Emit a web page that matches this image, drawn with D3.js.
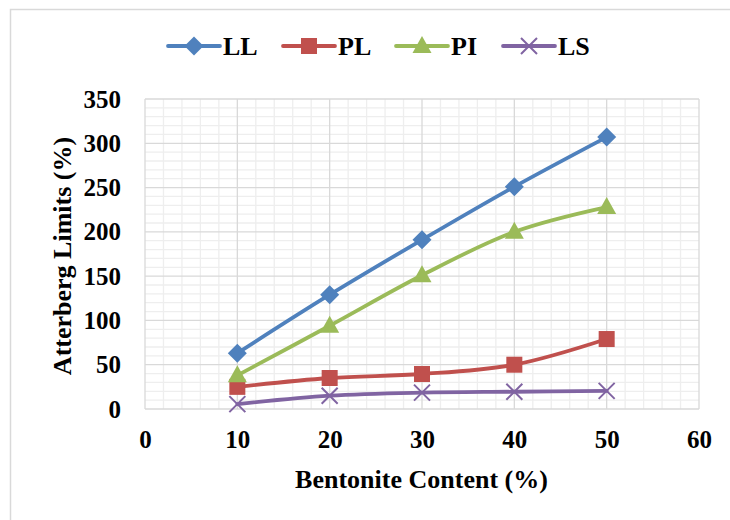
<!DOCTYPE html>
<html><head><meta charset="utf-8">
<script src="https://cdn.jsdelivr.net/npm/d3@7"></script>
<style>html,body{margin:0;padding:0;background:#fff;}svg{display:block;font-family:"Liberation Serif","Times New Roman",serif;font-weight:bold;}</style>
</head><body><svg id="c" width="730" height="520"></svg>
<script>
const categories = [10, 20, 30, 40, 50];
const LL = [63, 129, 191, 251, 307];
const PL = [25, 35, 39.5, 50, 79];
const PI = [38, 94, 151, 200, 228];
const LS = [5.5, 15, 18.5, 19.5, 20.5];
const xTicks = [0, 10, 20, 30, 40, 50, 60];
const yTicks = [0, 50, 100, 150, 200, 250, 300, 350];
const seriesNames = ["LL", "PL", "PI", "LS"];
const seriesColors = ["#4f81bd", "#c0504d", "#9bbb59", "#8064a2"];
const seriesValues = [LL, PL, PI, LS];
const markerTypes = ["diamond", "square", "triangle", "x"];

const svg = d3.select("#c");
// outer chart border
svg.append("rect").attr("x", 10.5).attr("y", 9.5).attr("width", 740).attr("height", 540)
  .attr("fill", "none").attr("stroke", "#d9d9d9").attr("stroke-width", 1.5);

const L = 145, R = 699, T = 99, B = 409;
const x = d3.scaleLinear().domain([0, 60]).range([L, R]);
const y = d3.scaleLinear().domain([0, 350]).range([B, T]);

const g = svg.append("g");
// minor grid
const xMinor = d3.range(0, 61, 2).filter(v => v % 10 !== 0);
const yMinor = d3.range(0, 351, 10).filter(v => v % 50 !== 0);
g.selectAll(".xm").data(xMinor).join("line").attr("x1", d => x(d)).attr("x2", d => x(d))
  .attr("y1", T).attr("y2", B).attr("stroke", "#eeeeee").attr("stroke-width", 1.3);
g.selectAll(".ym").data(yMinor).join("line").attr("y1", d => y(d)).attr("y2", d => y(d))
  .attr("x1", L).attr("x2", R).attr("stroke", "#eeeeee").attr("stroke-width", 1.3);
// major grid
g.selectAll(".xM").data(xTicks).join("line").attr("x1", d => x(d)).attr("x2", d => x(d))
  .attr("y1", T).attr("y2", B).attr("stroke", "#d9d9d9").attr("stroke-width", 1.3);
g.selectAll(".yM").data(yTicks).join("line").attr("y1", d => y(d)).attr("y2", d => y(d))
  .attr("x1", L).attr("x2", R).attr("stroke", "#d9d9d9").attr("stroke-width", 1.3);

// axes (labels only)
const xAxis = d3.axisBottom(x).tickValues(xTicks).tickSize(0).tickPadding(21);
const yAxis = d3.axisLeft(y).tickValues(yTicks).tickSize(0).tickPadding(24);
const gx = svg.append("g").attr("transform", `translate(0,${B})`).call(xAxis);
const gy = svg.append("g").attr("transform", `translate(${L},0)`).call(yAxis);
[gx, gy].forEach(a => {
  a.select(".domain").remove();
  a.selectAll("text").attr("font-size", 25).attr("font-weight", "bold")
    .attr("font-family", "Liberation Serif, Times New Roman, serif").attr("fill", "#000");
});

// axis titles
svg.append("text").attr("x", (L + R) / 2 - 0.5).attr("y", 488).attr("text-anchor", "middle")
  .attr("font-size", 26).attr("fill", "#000").text("Bentonite Content (%)");
svg.append("text").attr("transform", `translate(71,${(T + B) / 2 + 2}) rotate(-90)`)
  .attr("text-anchor", "middle").attr("font-size", 26).attr("fill", "#000").text("Atterberg Limits (%)");

function drawMarker(sel, type, color, cx, cy) {
  if (type === "diamond") {
    sel.append("path").attr("d", `M${cx},${cy-9.5}L${cx+9.5},${cy}L${cx},${cy+9.5}L${cx-9.5},${cy}Z`).attr("fill", color);
  } else if (type === "square") {
    sel.append("rect").attr("x", cx - 8).attr("y", cy - 8).attr("width", 16).attr("height", 16).attr("fill", color);
  } else if (type === "triangle") {
    sel.append("path").attr("d", `M${cx},${cy-10}L${cx+9.5},${cy+7}L${cx-9.5},${cy+7}Z`).attr("fill", color);
  } else {
    sel.append("path").attr("d", `M${cx-8},${cy-8}L${cx+8},${cy+8}M${cx+8},${cy-8}L${cx-8},${cy+8}`)
      .attr("stroke", color).attr("stroke-width", 2).attr("fill", "none");
  }
}

const line = d3.line().x((d, i) => x(categories[i])).y(d => y(d)).curve(d3.curveCatmullRom.alpha(0.5));
seriesValues.forEach((vals, si) => {
  const sg = svg.append("g");
  sg.append("path").attr("d", line(vals)).attr("fill", "none").attr("stroke", seriesColors[si])
    .attr("stroke-width", 3.8).attr("stroke-linejoin", "round").attr("stroke-linecap", "round");
  vals.forEach((v, i) => drawMarker(sg, markerTypes[si], seriesColors[si], x(categories[i]), y(v)));
});

// legend
const legX = [168, 283, 396, 503];
seriesNames.forEach((n, i) => {
  const lg = svg.append("g");
  const cy = 46;
  lg.append("line").attr("x1", legX[i]).attr("x2", legX[i] + 52).attr("y1", cy).attr("y2", cy)
    .attr("stroke", seriesColors[i]).attr("stroke-width", 3.8).attr("stroke-linecap", "round");
  drawMarker(lg, markerTypes[i], seriesColors[i], legX[i] + 26, cy);
  lg.append("text").attr("x", legX[i] + 55).attr("y", cy + 9).attr("font-size", 26).attr("fill", "#000").text(n);
});
</script></body></html>
